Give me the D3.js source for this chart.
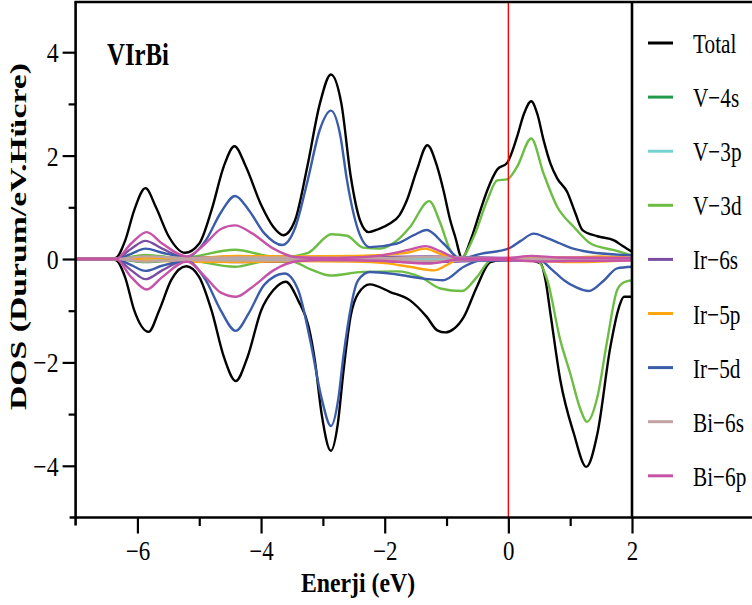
<!DOCTYPE html>
<html>
<head>
<meta charset="utf-8">
<script src="https://cdn.jsdelivr.net/npm/d3@7"></script>
<style>
  html, body { margin: 0; padding: 0; background: #fff; }
  svg { display: block; font-family: "Liberation Serif", "Times New Roman", serif; }
</style>
</head>
<body>
<svg id="chart" width="752" height="605"></svg>
<script>
// ---------- data (energy eV, DOS states/eV.cell) ----------
const seriesNames = ["Total", "V\u22124s", "V\u22123p", "V\u22123d", "Ir\u22126s", "Ir\u22125p", "Ir\u22125d", "Bi\u22126s", "Bi\u22126p"];
const seriesColors = ["#000000", "#1f9a48", "#74d2d0", "#6dbd45", "#7a4fa3", "#ffa510", "#3b5ca8", "#c2a3a3", "#c653a8"];

const totalUp = [[-7,0],[-6.5,0],[-6.35,0.02],[-6.2,0.35],[-6.05,0.95],[-5.87,1.37],[-5.7,1.0],[-5.5,0.45],[-5.23,0.12],[-5.0,0.3],[-4.8,0.95],[-4.6,1.8],[-4.43,2.18],[-4.25,1.8],[-4.0,1.05],[-3.8,0.62],[-3.64,0.46],[-3.45,0.75],[-3.25,1.8],[-3.05,3.0],[-2.87,3.57],[-2.7,3.0],[-2.55,1.6],[-2.4,0.75],[-2.26,0.52],[-2.1,0.58],[-1.91,0.69],[-1.76,0.85],[-1.64,1.14],[-1.48,1.72],[-1.31,2.2],[-1.15,1.78],[-1.05,1.33],[-0.94,0.75],[-0.86,0.43],[-0.75,0.02],[-0.6,0.4],[-0.45,0.95],[-0.34,1.33],[-0.18,1.73],[-0.02,1.86],[0.14,2.36],[0.25,2.8],[0.37,3.05],[0.47,2.8],[0.57,2.3],[0.68,1.85],[0.79,1.56],[0.95,1.3],[1.08,0.9],[1.2,0.56],[1.44,0.44],[1.71,0.36],[1.85,0.25],[2.0,0.14]];
const totalDn = [[-7,0],[-6.5,0],[-6.35,-0.02],[-6.2,-0.35],[-6.05,-1.0],[-5.82,-1.41],[-5.65,-1.0],[-5.45,-0.4],[-5.21,-0.14],[-5.0,-0.35],[-4.8,-1.0],[-4.6,-1.9],[-4.41,-2.36],[-4.22,-1.9],[-4.0,-1.0],[-3.8,-0.6],[-3.6,-0.44],[-3.4,-0.8],[-3.23,-1.31],[-3.13,-1.96],[-3.02,-3.0],[-2.87,-3.71],[-2.76,-3.2],[-2.67,-2.2],[-2.55,-1.1],[-2.43,-0.67],[-2.24,-0.49],[-1.91,-0.64],[-1.59,-0.8],[-1.32,-1.12],[-1.15,-1.38],[-1.02,-1.42],[-0.88,-1.35],[-0.72,-1.12],[-0.51,-0.54],[-0.29,-0.06],[-0.1,-0.02],[0.3,-0.02],[0.52,-0.08],[0.6,-0.4],[0.68,-1.05],[0.84,-2.34],[1.06,-3.38],[1.26,-4.02],[1.44,-3.38],[1.65,-1.7],[1.79,-0.93],[1.87,-0.73],[2.0,-0.73]];

const v4sUp = [[-7,0],[-6.35,0],[-5.87,0.06],[-5.2,0.01],[-4.4,0.03],[-3.6,0.05],[-3.3,0.03],[-2,0.02],[-1,0.01],[2,0.01]];
const v4sDn = [[-7,0],[-6.35,0],[-5.87,-0.06],[-5.2,-0.01],[-4.4,-0.03],[-3.6,-0.05],[-3.3,-0.03],[-2,-0.02],[-1,-0.01],[2,-0.01]];

const v3pUp = [[-7,0],[-6.35,0],[-5.87,0.02],[-4.4,0.02],[-2.9,0.02],[-1.3,0.02],[0,0.01],[2,0.01]];
const v3pDn = [[-7,0],[-6.35,0],[-5.87,-0.02],[-4.4,-0.02],[-2.9,-0.02],[-1.3,-0.02],[0,-0.01],[2,-0.01]];

const v3dUp = [[-7,0],[-6.35,0],[-5.87,0.08],[-5.3,0.02],[-4.42,0.18],[-3.9,0.06],[-3.64,0.04],[-3.24,0.12],[-2.86,0.48],[-2.61,0.45],[-2.35,0.22],[-2.08,0.2],[-1.8,0.36],[-1.59,0.62],[-1.28,1.12],[-1.1,0.69],[-0.94,0.17],[-0.78,0.0],[-0.56,0.43],[-0.34,1.14],[-0.18,1.52],[-0.02,1.54],[0.14,1.78],[0.37,2.33],[0.57,1.65],[0.79,1.01],[1.06,0.62],[1.33,0.3],[1.71,0.17],[2,0.07]];
const v3dDn = [[-7,0],[-6.35,0],[-5.87,-0.05],[-5.3,-0.01],[-4.42,-0.15],[-3.9,-0.04],[-3.5,-0.05],[-3.2,-0.2],[-2.88,-0.32],[-2.35,-0.25],[-1.8,-0.24],[-1.42,-0.35],[-1.1,-0.57],[-0.75,-0.62],[-0.51,-0.35],[-0.29,-0.03],[-0.1,0],[0.45,-0.02],[0.63,-0.41],[0.84,-1.57],[1.0,-2.21],[1.17,-2.92],[1.27,-3.15],[1.44,-2.67],[1.6,-1.57],[1.76,-0.6],[1.87,-0.45],[2,-0.41]];

const ir6sUp = [[-7,0],[-6.35,0],[-6.1,0.2],[-5.87,0.35],[-5.6,0.2],[-5.2,0.02],[-4.4,0.05],[-3,0.03],[-1.3,0.05],[0,0.02],[2,0.01]];
const ir6sDn = [[-7,0],[-6.35,0],[-6.1,-0.22],[-5.87,-0.39],[-5.6,-0.22],[-5.2,-0.02],[-4.4,-0.06],[-3,-0.03],[-1.3,-0.06],[0,-0.02],[2,-0.01]];

const ir5pUp = [[-7,0],[-6.35,0],[-5.87,0.03],[-5.2,0.01],[-4.4,0.06],[-3.5,0.05],[-2.5,0.06],[-2,0.08],[-1.6,0.13],[-1.35,0.2],[-1.1,0.1],[-0.8,0.0],[0,0.01],[0.4,0.04],[1,0.03],[1.5,0.05],[2,0.02]];
const ir5pDn = [[-7,0],[-6.35,0],[-5.87,-0.03],[-4.4,-0.06],[-3.5,-0.04],[-2.5,-0.05],[-2,-0.08],[-1.6,-0.15],[-1.2,-0.22],[-1.0,-0.12],[-0.8,-0.01],[0,-0.01],[1,-0.06],[1.5,-0.05],[2,-0.02]];

const ir5dUp = [[-7,0],[-6.35,0],[-6.1,0.1],[-5.87,0.2],[-5.6,0.12],[-5.2,0.04],[-4.9,0.35],[-4.65,0.9],[-4.42,1.22],[-4.2,0.95],[-3.95,0.5],[-3.66,0.27],[-3.45,0.6],[-3.25,1.5],[-3.05,2.5],[-2.87,2.87],[-2.72,2.4],[-2.61,1.52],[-2.43,0.56],[-2.24,0.23],[-1.8,0.3],[-1.53,0.46],[-1.32,0.56],[-1.05,0.3],[-0.78,0.01],[-0.45,0.1],[0.0,0.2],[0.2,0.35],[0.41,0.49],[0.6,0.42],[0.84,0.3],[1.05,0.2],[1.28,0.14],[2,0.07]];
const ir5dDn = [[-7,0],[-6.35,0],[-6.1,-0.12],[-5.87,-0.23],[-5.6,-0.13],[-5.2,-0.04],[-4.9,-0.4],[-4.65,-1.0],[-4.41,-1.39],[-4.2,-1.05],[-3.95,-0.5],[-3.62,-0.28],[-3.4,-0.6],[-3.2,-1.6],[-3.02,-2.7],[-2.87,-3.23],[-2.75,-2.7],[-2.67,-1.9],[-2.43,-0.41],[-2.24,-0.25],[-1.8,-0.3],[-1.37,-0.38],[-1.05,-0.41],[-0.72,-0.15],[-0.45,-0.03],[0.5,-0.02],[0.7,-0.2],[0.9,-0.41],[1.1,-0.55],[1.3,-0.62],[1.55,-0.41],[1.76,-0.18],[2,-0.15]];

const bi6sUp = [[-7,0],[-6.35,0],[-5.87,0.05],[-5.2,0.02],[-4.4,0.03],[-2,0.02],[-1.3,0.04],[0,0.01],[2,0.01]];
const bi6sDn = [[-7,0],[-6.35,0],[-5.87,-0.05],[-5.2,-0.02],[-4.4,-0.03],[-2,-0.02],[-1.3,-0.04],[0,-0.01],[2,-0.01]];

const bi6pUp = [[-7,0],[-6.35,0],[-6.1,0.3],[-5.85,0.52],[-5.6,0.3],[-5.2,0.05],[-4.9,0.3],[-4.65,0.58],[-4.42,0.65],[-4.15,0.5],[-3.8,0.2],[-3.45,0.04],[-3,0.02],[-2.5,0.03],[-2,0.08],[-1.6,0.18],[-1.34,0.25],[-1.1,0.15],[-0.8,0.01],[0,0.02],[0.37,0.06],[0.8,0.03],[2,0.02]];
const bi6pDn = [[-7,0],[-6.35,0],[-6.1,-0.35],[-5.85,-0.59],[-5.6,-0.35],[-5.2,-0.05],[-4.9,-0.35],[-4.65,-0.65],[-4.4,-0.73],[-4.15,-0.55],[-3.8,-0.22],[-3.4,-0.04],[-3,-0.02],[-2,-0.04],[-1.3,-0.09],[-0.8,-0.01],[0,-0.02],[0.5,-0.05],[1,-0.04],[2,-0.03]];

const seriesData = [
  [totalUp, totalDn], [v4sUp, v4sDn], [v3pUp, v3pDn], [v3dUp, v3dDn],
  [ir6sUp, ir6sDn], [ir5pUp, ir5pDn], [ir5dUp, ir5dDn], [bi6sUp, bi6sDn], [bi6pUp, bi6pDn]
];

const xMajorTicks = [-6, -4, -2, 0, 2];
const xMinorTicks = [-5, -3, -1, 1];
const yMajorTicks = [-4, -2, 0, 2, 4];
const yMinorTicks = [-3, -1, 1, 3];
const fermiLevel = 0;
const compoundLabel = "VIrBi";
const xTitle = "Enerji (eV)";
const yTitle = "DOS (Durum/eV.H\u00fccre)";

// ---------- drawing ----------
const W = 752, H = 605;
const svg = d3.select("#chart");
const x = d3.scaleLinear().domain([-7, 2]).range([75.6, 632]);
const y = d3.scaleLinear().domain([-5, 5]).range([517.5, 0.5]);

const line = d3.line().x(d => x(d[0])).y(d => y(d[1])).curve(d3.curveMonotoneX);

// curves
const gCurves = svg.append("g");
seriesData.forEach((pair, i) => {
  pair.forEach(arr => {
    gCurves.append("path").attr("d", line(arr))
      .attr("fill", "none").attr("stroke", seriesColors[i])
      .attr("stroke-width", 2.4).attr("stroke-linejoin", "round");
  });
});

// Fermi level
svg.append("line").attr("x1", x(fermiLevel)).attr("x2", x(fermiLevel))
  .attr("y1", 2).attr("y2", y(-5)).attr("stroke", "#ff0000").attr("stroke-width", 1.4);

// x axis ticks (major + minor)
const gx = svg.append("g").attr("transform", `translate(0,${y(-5)})`);
gx.call(d3.axisBottom(x).tickValues(xMajorTicks).tickSize(16).tickPadding(8));
gx.append("g").call(d3.axisBottom(x).tickValues(xMinorTicks).tickSize(8.5).tickFormat(""));
gx.attr("font-family", null);
gx.selectAll(".domain").remove();
gx.selectAll("line").attr("stroke", "#000").attr("stroke-width", 2.2);
gx.selectAll("text").attr("fill", "#000").attr("font-size", 27)
  .attr("font-family", "Liberation Serif").attr("y", 43).attr("dy", null)
  .attr("transform", "scale(0.85,1)");

// y axis ticks
const gy = svg.append("g").attr("transform", `translate(${x(-7)},0)`);
gy.call(d3.axisLeft(y).tickValues(yMajorTicks).tickSize(13));
gy.append("g").call(d3.axisLeft(y).tickValues(yMinorTicks).tickSize(7).tickFormat(""));
gy.attr("font-family", null);
gy.selectAll(".domain").remove();
gy.selectAll("line").attr("stroke", "#000").attr("stroke-width", 2.2);
gy.selectAll("text").attr("fill", "#000").attr("font-size", 28)
  .attr("font-family", "Liberation Serif").attr("x", 0).attr("dy", "0.34em")
  .attr("transform", "translate(-17,0) scale(0.85,1)");

// frame lines
const frame = svg.append("g").attr("stroke", "#000").attr("stroke-width", 2.6);
frame.append("line").attr("x1", x(-7)).attr("x2", x(-7)).attr("y1", 1.5).attr("y2", y(-5) + 8);
frame.append("line").attr("x1", x(-7) - 6).attr("x2", W).attr("y1", y(-5)).attr("y2", y(-5));
frame.append("line").attr("x1", x(-7) - 1).attr("x2", W).attr("y1", 2).attr("y2", 2);
frame.append("line").attr("x1", x(2)).attr("x2", x(2)).attr("y1", 2).attr("y2", y(-5));

// compound label
svg.append("text").attr("transform", "translate(107,65) scale(0.8,1)")
  .attr("font-size", 31).attr("font-weight", "bold").text(compoundLabel);

// axis titles
svg.append("text").attr("transform", "translate(358,592) scale(0.88,1)")
  .attr("text-anchor", "middle").attr("font-size", 27).attr("font-weight", "bold").text(xTitle);
svg.append("text").attr("transform", "translate(26,236.5) rotate(-90)")
  .attr("text-anchor", "middle").attr("font-size", 23).attr("font-weight", "bold")
  .attr("textLength", 347).attr("lengthAdjust", "spacingAndGlyphs").text(yTitle);

// legend
const legend = svg.append("g");
seriesNames.forEach((name, i) => {
  const ly = 43 + i * 54.1;
  legend.append("line").attr("x1", 648).attr("x2", 673).attr("y1", ly).attr("y2", ly)
    .attr("stroke", seriesColors[i]).attr("stroke-width", 3);
  legend.append("text").attr("transform", `translate(693,${ly + 10}) scale(0.76,1)`)
    .attr("font-size", 28).text(name);
});
</script>
</body>
</html>
